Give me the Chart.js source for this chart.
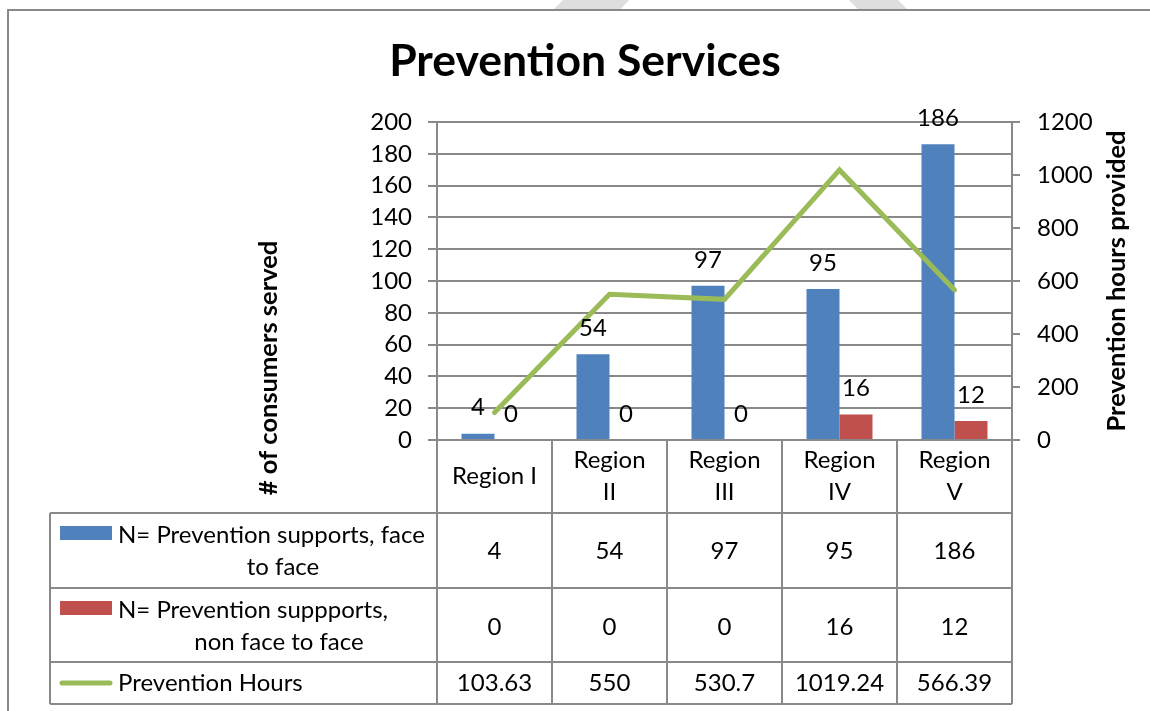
<!DOCTYPE html>
<html>
<head>
<meta charset="utf-8">
<title>Prevention Services</title>
<script src="https://cdn.jsdelivr.net/npm/chart.js@4.4.1/dist/chart.umd.min.js"></script>
<style>
  html, body { margin: 0; padding: 0; background: #fff; }
  canvas { display: block; }
</style>
</head>
<body>
<canvas id="prev" width="1150" height="711"></canvas>
<script>
// data
const regions = ["Region I", ["Region", "II"], ["Region", "III"], ["Region", "IV"], ["Region", "V"]];
const faceToFace = [4, 54, 97, 95, 186];
const nonFaceToFace = [0, 0, 0, 16, 12];
const hours = [103.63, 550, 530.7, 1019.24, 566.39];
const seriesNames = [
  ["N= Prevention supports, face", "to face"],
  ["N= Prevention suppports,", "non face to face"],
  ["Prevention Hours"]
];
const leftTitle = "# of consumers served";
const rightTitle = "Prevention hours provided";

const FONT = "Lato, 'Open Sans', sans-serif";
const GRID = "#898989";
const BLUE = "#4F81BD", RED = "#C0504D", GREEN = "#9BBB59";
const TXT = 24;

const sheet = {
  id: "sheet",
  beforeDraw(chart) {
    const c = chart.ctx;
    c.save();
    // watermark fragments peeking in at the top
    c.fillStyle = "#dedede";
    c.beginPath();
    c.moveTo(563, 0); c.lineTo(629, 0); c.lineTo(620, 10); c.lineTo(553, 10); c.closePath(); c.fill();
    c.beginPath();
    c.moveTo(849, 0); c.lineTo(898, 0); c.lineTo(908, 10); c.lineTo(859, 10); c.closePath(); c.fill();
    // frame
    c.strokeStyle = GRID; c.lineWidth = 2;
    c.beginPath(); c.moveTo(1150, 10); c.lineTo(8, 10); c.lineTo(8, 711); c.stroke();
    c.restore();
  },
  afterDraw(chart) {
    const c = chart.ctx;
    const area = chart.chartArea;
    const x = chart.scales.x;
    const colW = x.width / regions.length;
    const centers = regions.map((_, i) => x.getPixelForValue(i));
    const rows = [area.bottom, 513, 588, 662, 704];
    const tableLeft = 50;
    c.save();
    c.fillStyle = "#000";
    c.textAlign = "center";
    c.textBaseline = "middle";
    c.font = TXT + "px " + FONT;

    // value labels above bars
    [0, 1].forEach(d => {
      chart.getDatasetMeta(d).data.forEach((bar, i) => {
        c.fillText(String(chart.data.datasets[d].data[i]), bar.x, bar.y - 26);
      });
    });

    // table grid
    c.strokeStyle = GRID; c.lineWidth = 2;
    c.beginPath();
    rows.slice(1).forEach(y => { c.moveTo(tableLeft, y); c.lineTo(area.right, y); });
    centers.forEach(cx => { c.moveTo(cx - colW / 2, area.bottom); c.lineTo(cx - colW / 2, rows[4]); });
    c.moveTo(area.right, area.bottom); c.lineTo(area.right, rows[4]);
    c.moveTo(tableLeft, rows[1]); c.lineTo(tableLeft, rows[4]);
    c.stroke();

    // category header
    regions.forEach((lab, i) => {
      const lines = Array.isArray(lab) ? lab : [lab];
      const mid = (rows[0] + rows[1]) / 2;
      lines.forEach((t, k) => c.fillText(t, centers[i], mid + (k - (lines.length - 1) / 2) * 32));
    });

    // values
    const series = [faceToFace, nonFaceToFace, hours];
    const rowMid = [551, 627, 683];
    series.forEach((arr, r) => {
      arr.forEach((v, i) => c.fillText(String(v), centers[i], rowMid[r]));
    });

    // legend keys + names
    c.fillStyle = BLUE; c.fillRect(60, 526, 52, 14);
    c.fillStyle = RED; c.fillRect(60, 601, 52, 14);
    c.strokeStyle = GREEN; c.lineWidth = 5; c.lineCap = "round";
    c.beginPath(); c.moveTo(62, 683); c.lineTo(110, 683); c.stroke();
    c.fillStyle = "#000";
    const nameY = [[535, 567], [610, 642], [683]];
    const secondX = [283, 279];
    seriesNames.forEach((lines, r) => {
      lines.forEach((t, k) => {
        if (k === 0) { c.textAlign = "left"; c.fillText(t, 118, nameY[r][k]); }
        else { c.textAlign = "center"; c.fillText(t, secondX[r], nameY[r][k]); }
      });
    });

    // axis titles
    c.font = "bold 25.5px " + FONT;
    c.textAlign = "center";
    c.save(); c.translate(269, 368); c.rotate(-Math.PI / 2); c.fillText(leftTitle, 0, 0); c.restore();
    c.save(); c.translate(1117, (area.top + area.bottom) / 2); c.rotate(-Math.PI / 2); c.fillText(rightTitle, 0, 0); c.restore();
    c.restore();
  }
};

new Chart(document.getElementById("prev"), {
  type: "bar",
  data: {
    labels: regions,
    datasets: [
      { label: "N= Prevention supports, face to face", data: faceToFace, backgroundColor: BLUE, yAxisID: "y", order: 1,
        categoryPercentage: 0.574, barPercentage: 1.0 },
      { label: "N= Prevention suppports, non face to face", data: nonFaceToFace, backgroundColor: RED, yAxisID: "y", order: 1,
        categoryPercentage: 0.574, barPercentage: 1.0 },
      { type: "line", label: "Prevention Hours", data: hours, yAxisID: "y1", order: 0,
        borderColor: GREEN, borderWidth: 5, pointRadius: 0, tension: 0,
        borderCapStyle: "round", borderJoinStyle: "miter" }
    ]
  },
  options: {
    responsive: false,
    devicePixelRatio: 1,
    animation: false,
    layout: { padding: { left: 20, top: 0, right: 0, bottom: 0 } },
    plugins: {
      legend: { display: false },
      tooltip: { enabled: false },
      title: {
        display: true,
        text: "Prevention Services",
        color: "#000",
        font: { family: FONT, size: 44.5, weight: "bold", lineHeight: 1.2 },
        padding: { top: 35.3, bottom: 33.3 }
      }
    },
    scales: {
      x: {
        offset: true,
        grid: { display: false },
        ticks: { display: false },
        border: { color: GRID, width: 2 },
        afterFit(s) { s.height = 271; }
      },
      y: {
        position: "left",
        min: 0, max: 200,
        ticks: { stepSize: 20, color: "#000", padding: 16, font: { family: FONT, size: TXT } },
        grid: { color: GRID, lineWidth: 2, tickLength: 9 },
        border: { color: GRID, width: 2 },
        afterFit(s) { s.width = 417; }
      },
      y1: {
        position: "right",
        min: 0, max: 1200,
        ticks: { stepSize: 200, color: "#000", padding: 17, font: { family: FONT, size: TXT },
                 callback: v => String(v) },
        grid: { drawOnChartArea: false, color: GRID, lineWidth: 2, tickLength: 8 },
        border: { color: GRID, width: 2 },
        afterFit(s) { s.width = 138; }
      }
    }
  },
  plugins: [sheet]
});
</script>
</body>
</html>
